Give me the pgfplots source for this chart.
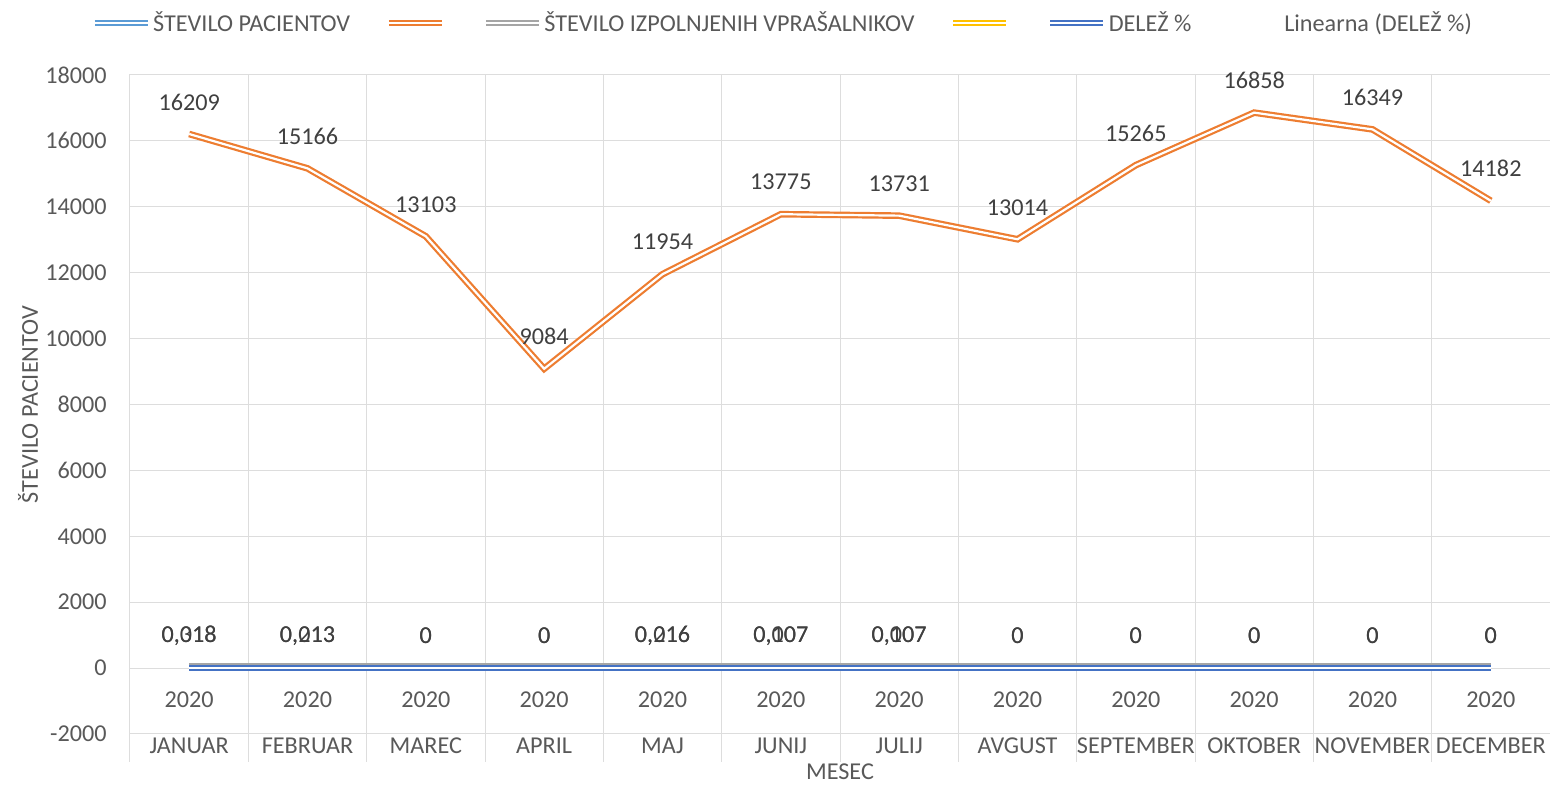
\documentclass[border=0pt]{standalone}
\usepackage{pgfplots}
\pgfplotsset{compat=1.18}
\usepackage{pgfplotstable}
\usepackage{fontspec}
\setmainfont{Carlito}
\definecolor{gridgray}{HTML}{DDDDDD}
\definecolor{ticktext}{HTML}{595959}
\definecolor{labtext}{HTML}{404040}
\definecolor{cOrange}{HTML}{ED7D31}
\definecolor{cLightBlue}{HTML}{5B9BD5}
\definecolor{cGray}{HTML}{A5A5A5}
\definecolor{cYellow}{HTML}{FFC000}
\definecolor{cBlue}{HTML}{4472C4}
\newcommand\chartfont{\fontsize{12.1}{14.5}\selectfont}

\pgfplotstableread{
x pac
0 16209
1 15166
2 13103
3 9084
4 11954
5 13775
6 13731
7 13014
8 15265
9 16858
10 16349
11 14182
}\tabPac

\pgfplotstableread{
x del labA
0 0 0,018
1 0 0,013
2 0 0
3 0 0
4 0 0,016
5 0 0,007
6 0 0,007
7 0 0
8 0 0
9 0 0
10 0 0
11 0 0
}\tabDel

\pgfplotstableread{
x izp labB
0 60 0,318
1 60 0,213
2 60 0
3 60 0
4 60 0,216
5 60 0,107
6 60 0,107
7 60 0
8 60 0
9 60 0
10 60 0
11 60 0
}\tabIzp

\pgfplotstableread{
x yel
0 0
1 0
2 0
3 0
4 0
5 0
6 0
7 0
8 0
9 0
10 0
11 0
}\tabYel

\begin{document}
\begin{tikzpicture}
\useasboundingbox (-65pt,-25.5pt) rectangle (710pt,367pt);
\begin{axis}[
  scale only axis, width=710pt, height=329.5pt,
  at={(0,0)}, anchor=south west,
  xmin=-0.5, xmax=11.5, ymin=-2000, ymax=18000,
  xtick={0,1,2,3,4,5,6,7,8,9,10,11},
  xticklabels={{2020\\[8.5pt]JANUAR},{2020\\[8.5pt]FEBRUAR},{2020\\[8.5pt]MAREC},{2020\\[8.5pt]APRIL},{2020\\[8.5pt]MAJ},{2020\\[8.5pt]JUNIJ},{2020\\[8.5pt]JULIJ},{2020\\[8.5pt]AVGUST},{2020\\[8.5pt]SEPTEMBER},{2020\\[8.5pt]OKTOBER},{2020\\[8.5pt]NOVEMBER},{2020\\[8.5pt]DECEMBER}},
  minor xtick={-0.5,0.5,1.5,2.5,3.5,4.5,5.5,6.5,7.5,8.5,9.5,10.5,11.5},
  ytick={-2000,0,2000,4000,6000,8000,10000,12000,14000,16000,18000},
  scaled y ticks=false,
  ymajorgrids, xminorgrids,
  grid style={gridgray, line width=0.5pt},
  major tick length=0pt, minor tick length=14pt,
  tick align=outside, xtick pos=lower, ytick pos=left,
  tick style={gridgray, line width=0.5pt},
  axis line style={gridgray, line width=0.5pt},
  font=\chartfont,
  tick label style={text=ticktext, font=\chartfont},
  /pgf/number format/set thousands separator={},
  /pgf/number format/assume math mode=true,
  yticklabel style={inner sep=0pt, anchor=east, xshift=-11.5pt},
  xticklabel style={anchor=center, align=center, yshift=5.5pt, inner sep=0pt},
  ylabel={ŠTEVILO PACIENTOV},
  xlabel={MESEC},
  every axis y label/.style={at={(rel axis cs:0,0.5)}, xshift=-51pt, rotate=90, anchor=center, text=ticktext, font=\chartfont},
  every axis x label/.style={at={(rel axis cs:0.5,0)}, yshift=-19pt, anchor=center, text=ticktext, font=\chartfont},
  legend columns=6,
  legend style={at={(rel axis cs:0.4602,1.0789)}, anchor=center, draw=none, fill=none,
    font=\chartfont, text=ticktext,
    /tikz/every even column/.append style={column sep=16.5pt},
    nodes={inner sep=1.5pt}},
  legend image code/.code={\draw[#1] (0pt,0pt) -- (26.5pt,0pt);},
  every node near coord/.style={anchor=center, yshift=16pt, text=labtext, font=\chartfont, inner sep=0pt},
  clip=false,
]
\addlegendimage{cLightBlue, line width=0.85pt, double=white, double distance=0.85pt}
\addlegendentry{ŠTEVILO PACIENTOV}
\addlegendimage{cOrange, line width=0.85pt, double=white, double distance=0.85pt}
\addlegendentry{}
\addlegendimage{cGray, line width=0.85pt, double=white, double distance=0.85pt}
\addlegendentry{ŠTEVILO IZPOLNJENIH VPRAŠALNIKOV}
\addlegendimage{cYellow, line width=0.85pt, double=white, double distance=0.85pt}
\addlegendentry{}
\addlegendimage{cBlue, line width=0.85pt, double=white, double distance=0.85pt}
\addlegendentry{DELEŽ \%}
\addlegendimage{white, opacity=0}
\addlegendentry{Linearna (DELEŽ \%)}

\addplot[cGray, line width=1.1pt, double=white, double distance=1.1pt, forget plot,
  nodes near coords={\pgfplotspointmeta}, point meta=explicit symbolic,
  every node near coord/.append style={yshift=-1pt}]
  table[x=x, y=izp, meta=labB] {\tabIzp};
\addplot[cYellow, line width=1.1pt, double=white, double distance=1.1pt, forget plot]
  table[x=x, y=yel] {\tabYel};
\addplot[cBlue, line width=1.1pt, double=white, double distance=1.1pt, forget plot,
  nodes near coords={\pgfplotspointmeta}, point meta=explicit symbolic]
  table[x=x, y=del, meta=labA] {\tabDel};
\addplot[cOrange, line width=1.1pt, double=white, double distance=1.1pt, forget plot,
  nodes near coords={\pgfplotspointmeta}, point meta=explicit symbolic]
  table[x=x, y=pac, meta=pac] {\tabPac};
\end{axis}
\end{tikzpicture}
\end{document}
